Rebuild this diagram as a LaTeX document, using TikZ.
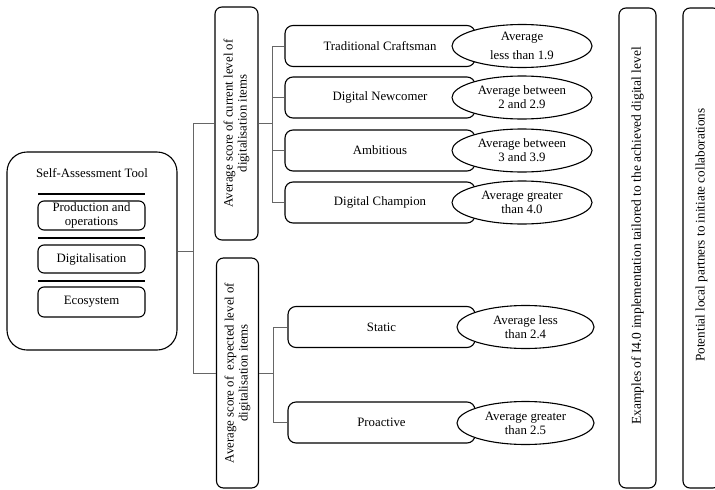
\documentclass[tikz,border=0pt]{standalone}
\usepackage{fontspec}
\setmainfont{Liberation Serif}
\usetikzlibrary{shapes.geometric}

\tikzset{
  stagebox/.style={draw, rounded corners=8pt, line width=1.1pt, minimum height=41pt, align=center},
  scorebox/.style={draw, ellipse, fill=white, line width=1.1pt, minimum width=140pt, minimum height=43pt, inner sep=0pt, align=center},
  partbox/.style={draw, rounded corners=6pt, line width=1.1pt, minimum width=107pt, inner sep=0pt, align=center},
  tallbox/.style={draw, rounded corners=7pt, line width=1.1pt, rotate=90, inner sep=1pt, align=center},
  conn/.style={draw=gray!80!black, line width=0.8pt},
}

\begin{document}
\begin{tikzpicture}[x=1pt, y=-1pt, font=\fontsize{12.8}{14}\selectfont]
\clip (0,0) rectangle (715,490);

% self-assessment tool
\node [draw, rounded corners=20pt, line width=1.1pt, minimum width=170pt, minimum height=198pt] (tool) at (92,251) {};
\node (title) at (92,173) {Self-Assessment Tool};
\node [partbox, minimum height=29pt] (prod) at (91.5,215.5) {Production and\\operations};
\node [partbox, minimum height=28pt] (digi) at (91.5,259) {Digitalisation};
\node [partbox, minimum height=30pt] (eco) at (91.5,302) {Ecosystem};
\draw [line width=1.3pt] (38,194) -- (145,194);
\draw [line width=1.3pt] (38,238) -- (145,238);
\draw [line width=1.3pt] (38,281) -- (145,281);

% the two scores
\node [tallbox, minimum width=233pt, minimum height=43pt] (cur) at (236.5,123.5) {Average score of current level of\\digitalisation items};
\node [tallbox, minimum width=230pt, minimum height=42pt] (expd) at (237.5,373) {Average score of \ expected level of\\digitalisation items};

% current levels
\node [stagebox, minimum width=190pt] (trad) at (380,46) {Traditional Craftsman};
\node [stagebox, minimum width=190pt] (newc) at (380,97.5) {Digital Newcomer};
\node [stagebox, minimum width=190pt] (ambi) at (380,150.5) {Ambitious};
\node [stagebox, minimum width=190pt] (champ) at (380,202.5) {Digital Champion};
\node [scorebox] (s1) at (522,46) {Average\\[5pt]less than 1.9};
\node [scorebox] (s2) at (522,97.5) {Average between\\2 and 2.9};
\node [scorebox] (s3) at (522,150.5) {Average between\\3 and 3.9};
\node [scorebox] (s4) at (522,202.5) {Average greater\\than 4.0};

% expected levels
\node [stagebox, minimum width=187pt] (static) at (381.5,327) {Static};
\node [stagebox, minimum width=187pt] (proac) at (381.5,422.5) {Proactive};
\node [scorebox, minimum width=137pt] (s5) at (525.5,327) {Average less\\than 2.4};
\node [scorebox, minimum width=137pt] (s6) at (525.5,423) {Average greater\\than 2.5};

% outputs
\node [tallbox, minimum width=480pt, minimum height=37pt, font=\fontsize{13.5}{15}\selectfont] (exmp) at (637.5,248) {\hspace*{24pt}Examples of I4.0 implementation tailored to the achieved digital level};
\node [tallbox, minimum width=480pt, minimum height=37pt, font=\fontsize{13.2}{15}\selectfont] (partn) at (701.5,248) {\hspace*{26pt}Potential local partners to initiate collaborations};

% connectors
\coordinate (j0) at (193,251);
\coordinate (j1) at (272,123.5);
\coordinate (j2) at (273,373);
\path [conn] (tool.east) -- (j0);
\path [conn] (j0) |- (cur);
\path [conn] (j0) |- (expd);
\path [conn] (cur) -- (j1);
\foreach \n in {trad,newc,ambi,champ}
  \path [conn] (j1) |- (\n);
\path [conn] (expd) -- (j2);
\path [conn] (j2) |- (static);
\path [conn] (j2) |- (proac);
\end{tikzpicture}
\end{document}
